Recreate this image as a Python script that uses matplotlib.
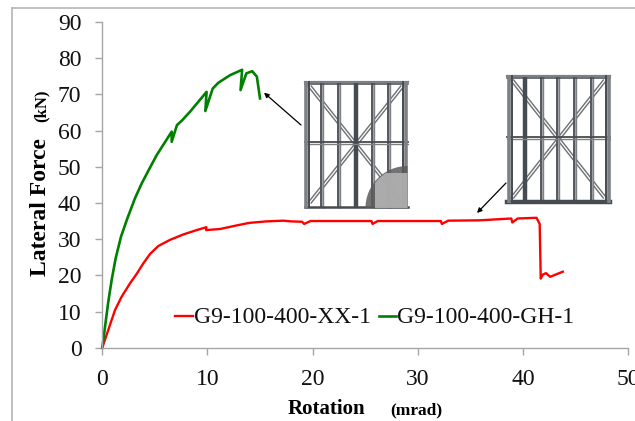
import matplotlib
matplotlib.use("Agg")
import matplotlib.pyplot as plt
from matplotlib.patches import Rectangle, Wedge

red_x = [0, 0.73, 1.21, 1.84, 2.64, 3.27, 3.9, 4.54, 5.33, 6.44, 7.71, 8.98, 9.9, 9.87, 11.2, 12.8, 14, 15.6, 17.2, 18, 19, 19.2, 19.8,
         25.6, 25.7, 26.2, 32.2, 32.3, 32.9, 35.9, 38.9, 39, 39.5, 41.3, 41.6, 41.7, 41.9, 42.2, 42.6, 43.8]
red_y = [0, 6.3, 10.4, 14.1, 17.8, 20.4, 23.3, 25.9, 28.1, 29.8, 31.3, 32.5, 33.3, 32.5, 32.8, 33.8, 34.5, 34.9, 35.1, 34.9, 34.8, 34.2, 35,
         35, 34.2, 35, 35, 34.2, 35.1, 35.2, 35.7, 34.6, 35.7, 35.9, 34.2, 19.1, 20.2, 20.6, 19.6, 21]
green_x = [0, 0.26, 0.57, 0.89, 1.27, 1.78, 2.38, 3.11, 3.75, 4.38, 5.17, 6.6, 6.6, 7.1, 7.55, 8.34, 9.92, 9.8, 10.5, 11.03, 12.15, 13.3, 13.15, 13.7, 14.26, 14.7, 15.0]
green_y = [0, 5.8, 12.7, 18.7, 24.7, 30.7, 35.7, 41.3, 45.4, 48.9, 53.2, 59.7, 56.9, 61.5, 62.7, 65.2, 70.7, 65.4, 71.6, 73.2, 75.3, 76.8, 71.2, 75.8, 76.4, 74.9, 68.9]
red_name = "G9-100-400-XX-1"
green_name = "G9-100-400-GH-1"
x_ticks = [0, 10, 20, 30, 40, 50]
y_ticks = [0, 10, 20, 30, 40, 50, 60, 70, 80, 90]

W, H = 635, 421
plt.rcParams["font.family"] = ["Liberation Serif", "DejaVu Serif"]
fig = plt.figure(figsize=(W / 100, H / 100), dpi=100)
ax = fig.add_axes([102.3 / W, 1 - 347.7 / H, (628 - 102.3) / W, (347.7 - 22) / H])
ax.set_xlim(0, 50)
ax.set_ylim(0, 90)
ax.set_xticks(x_ticks)
ax.set_yticks(y_ticks)
for s in ["top", "right"]:
    ax.spines[s].set_visible(False)
for s in ["left", "bottom"]:
    ax.spines[s].set_color("#a6a6a6")
    ax.spines[s].set_linewidth(1)
ax.tick_params(length=5, width=1, color="#a6a6a6", labelsize=17, labelcolor="#111111")
ax.tick_params(axis="x", pad=10.5)
ax.tick_params(axis="y", pad=10)
for lab in ax.get_xticklabels() + ax.get_yticklabels():
    lab.set_clip_on(False)
ax.plot(red_x, red_y, color="#ff0000", lw=1.7, solid_joinstyle="round", clip_on=False)
ax.plot(green_x, green_y, color="#008000", lw=1.9, solid_joinstyle="round", clip_on=False)

# overlay in reference pixel coordinates
ov = fig.add_axes([0, 0, 1, 1], facecolor="none")
ov.set_xlim(0, W)
ov.set_ylim(H, 0)
ov.axis("off")
ov.plot([12, 12], [8, H], color="#b5b5b5", lw=1.2)
ov.plot([12, W], [8, 8], color="#b5b5b5", lw=1.2)

DARK, MID, LIGHT = "#464b51", "#7d8084", "#a8aaad"


def frame(x0, x1, y0, y1, ym, studs, heavy_studs, heavy_bottom):
    # double-line diagonal bracing
    for a, b in [((x0 + 5, y0 + 5), (x1 - 5, y1 - 5)), ((x1 - 5, y0 + 5), (x0 + 5, y1 - 5))]:
        for d in (-1.7, 1.7):
            ov.plot([a[0] + d, b[0] + d], [a[1], b[1]], color="#6c6f73", lw=1.0)
    for xs in studs:
        if xs in heavy_studs:
            ov.plot([xs, xs], [y0, y1], color=DARK, lw=3.2, solid_capstyle="butt")
        else:
            ov.plot([xs, xs], [y0, y1], color=LIGHT, lw=2.6, solid_capstyle="butt")
            ov.plot([xs - 1.2, xs - 1.2], [y0, y1], color=DARK, lw=1.2, solid_capstyle="butt")
            ov.plot([xs + 1.2, xs + 1.2], [y0, y1], color=MID, lw=1.0, solid_capstyle="butt")
    ov.plot([x0, x1], [ym - 1, ym - 1], color=DARK, lw=1.3)
    ov.plot([x0, x1], [ym + 1, ym + 1], color=MID, lw=1.0)
    ov.plot([x0, x1], [y0 + 0.8, y0 + 0.8], color=MID, lw=1.6)
    ov.plot([x0, x1], [y0 + 3, y0 + 3], color=DARK, lw=1.1)
    ov.plot([x0, x1], [y1 - 1.2, y1 - 1.2], color=DARK, lw=heavy_bottom)
    ov.plot([x0 + 1.5, x0 + 1.5], [y0, y1], color=MID, lw=2.6, solid_capstyle="butt")
    ov.plot([x0 + 4.5, x0 + 4.5], [y0, y1], color=DARK, lw=1.4, solid_capstyle="butt")
    ov.plot([x1 - 4.5, x1 - 4.5], [y0, y1], color=DARK, lw=1.4, solid_capstyle="butt")
    ov.plot([x1 - 1.5, x1 - 1.5], [y0, y1], color=MID, lw=2.6, solid_capstyle="butt")


frame(304.5, 407.5, 81, 208, 143, [322, 339, 356, 372.7, 389], [356], 1.8)
frame(507, 610, 75, 203, 138, [525, 542, 558, 575, 592], [525], 3.2)

# failure region of the left frame: gusset seen through a translucent patch
outer = Wedge((407.5, 208), 42, 180, 270, facecolor="#5a5a5a", edgecolor="none", alpha=0.85, zorder=5)
ov.add_patch(outer)
inner = Rectangle((375, 172.5), 32.5, 35.5, facecolor="#b4b4b4", edgecolor="none", alpha=0.88, zorder=6)
ov.add_patch(inner)
inner.set_clip_path(Wedge((407.5, 208), 41, 180, 270, transform=ov.transData))

arrow = dict(arrowstyle="-|>", color="black", lw=0.9, mutation_scale=7, shrinkA=0, shrinkB=0)
ov.annotate("", xy=(264, 92.7), xytext=(301, 125), arrowprops=arrow)
ov.annotate("", xy=(477, 213), xytext=(506, 183), arrowprops=arrow)

ov.plot([175, 193], [316, 316], color="#ff0000", lw=1.7)
ov.plot([379, 396], [316, 316], color="#008000", lw=1.9)
ov.text(194, 317.5, red_name, fontsize=17, va="center", ha="left", color="#111111")
ov.text(397, 317.5, green_name, fontsize=17, va="center", ha="left", color="#111111")

ov.text(288, 409, "Rotation", fontsize=15, fontweight="bold", va="center", ha="left")
ov.text(390, 410.5, "(mrad)", fontsize=12.5, fontweight="bold", va="center", ha="left")
ov.text(41, 207, "Lateral Force", fontsize=17, fontweight="bold", rotation=90, va="center", ha="center")
ov.text(42, 106, "(kN)", fontsize=12, fontweight="bold", rotation=90, va="center", ha="center")

fig.savefig("out.png", dpi=100)
